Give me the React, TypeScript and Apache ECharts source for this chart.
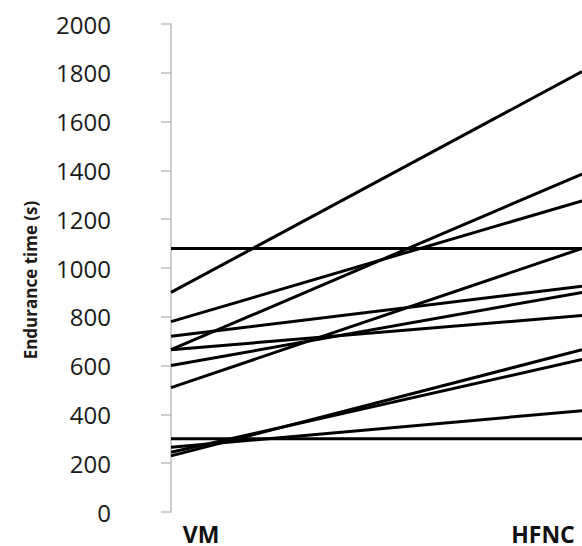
import React, { useEffect, useRef } from "react";
import * as echarts from "echarts";

// Endurance time (s) for each subject: VM (left end) and HFNC (right end)
const categories = ["VM", "HFNC"];
const vmValues = [1080, 900, 780, 720, 665, 665, 600, 510, 300, 265, 245, 230];
const hfncValues = [1080, 1805, 1275, 925, 1385, 805, 900, 1080, 300, 415, 625, 665];
const yTicks = [0, 200, 400, 600, 800, 1000, 1200, 1400, 1600, 1800, 2000];
const yTitle = "Endurance time (s)";

// positions (not data)
const X_MIN = -0.0706;
const LABEL_POS = [0.073, 0.905];

export default function App() {
  const ref = useRef<HTMLDivElement>(null);
  useEffect(() => {
    document.body.style.margin = "0";
    if (!ref.current) return;
    const chart = echarts.init(ref.current, undefined, { renderer: "svg" });
    const series = vmValues.map((v, i) => ({
      type: "line",
      data: [
        [0, v],
        [1, hfncValues[i]],
      ],
      symbol: "none",
      lineStyle: { color: "#000000", width: 3 },
      itemStyle: { color: "#000000" },
      silent: true,
    }));
    chart.setOption({
      animation: false,
      backgroundColor: "#ffffff",
      grid: { left: 142, right: 0, top: 24, bottom: 34, containLabel: false },
      xAxis: {
        type: "value",
        min: X_MIN,
        max: 1,
        axisLine: { show: false },
        axisTick: { show: false },
        splitLine: { show: false },
        axisLabel: {
          customValues: LABEL_POS,
          formatter: (val: number) =>
            Math.abs(val - LABEL_POS[0]) < 0.01 ? categories[0] : categories[1],
          fontFamily: "Open Sans",
          fontWeight: "bold",
          fontSize: 23,
          lineHeight: 18,
          color: "#111111",
          margin: 13,
        },
      },
      yAxis: {
        type: "value",
        min: yTicks[0],
        max: yTicks[yTicks.length - 1],
        interval: yTicks[1] - yTicks[0],
        axisLine: { show: true, lineStyle: { color: "#bfbfbf", width: 1.5 } },
        axisTick: { show: true, length: 10, lineStyle: { color: "#bfbfbf", width: 1.5 } },
        splitLine: { show: false },
        axisLabel: {
          formatter: (v: number) => String(v),
          fontFamily: "Open Sans",
          fontSize: 24,
          color: "#1a1a1a",
          margin: 31,
        },
      },
      graphic: [
        {
          type: "text",
          x: 30,
          y: 280,
          rotation: Math.PI / 2,
          style: {
            text: yTitle,
            fontFamily: "Open Sans",
            fontWeight: "bold",
            fontSize: 17,
            fill: "#1e1a17",
            align: "center",
            verticalAlign: "middle",
          },
        },
      ],
      series,
    });
    return () => chart.dispose();
  }, []);
  return <div ref={ref} style={{ width: 582, height: 546 }} />;
}
